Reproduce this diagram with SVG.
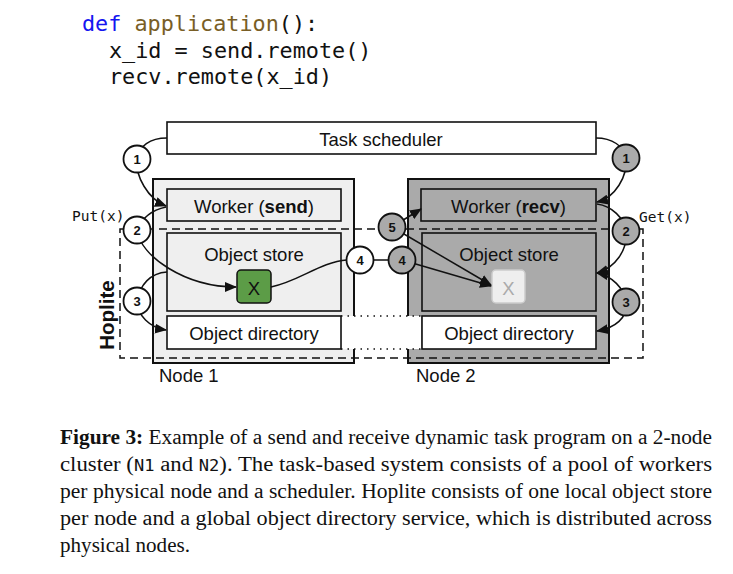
<svg xmlns="http://www.w3.org/2000/svg" width="733" height="574" viewBox="0 0 733 574">
<style>
  .code{font-family:"DejaVu Sans Mono",monospace;font-size:21.8px;fill:#111}
  .lbl{font-family:"Liberation Sans",Arial,sans-serif;font-size:18.5px;fill:#111;text-anchor:middle}
  .box{stroke:#111;stroke-width:1.6}
  .outer{stroke:#111;stroke-width:2}
  .conn{fill:none;stroke:#111;stroke-width:1.5}
  .circW{fill:#fff;stroke:#111;stroke-width:1.8}
  .circG{fill:#aaa;stroke:#111;stroke-width:1.8}
  .num{font-family:"Liberation Sans",Arial,sans-serif;font-size:13px;font-weight:bold;fill:#111;text-anchor:middle}
  .mono{font-family:"DejaVu Sans Mono",monospace;font-size:14.5px;fill:#111}
  .cap{font-family:"Liberation Serif","Times New Roman",serif;font-size:20px;fill:#111}
</style>
<defs>
  <marker id="arr" markerUnits="userSpaceOnUse" markerWidth="12" markerHeight="10" refX="11" refY="5" orient="auto-start-reverse">
    <path d="M0,0 L12,5 L0,10 z" fill="#111"/>
  </marker>
</defs>

<g id="code">
  <text class="code" x="82" y="31"><tspan fill="#1515f0">def</tspan> <tspan fill="#795e26">application</tspan>():</text>
  <text class="code" x="109" y="57.5">x_id = send.remote()</text>
  <text class="code" x="109" y="84">recv.remote(x_id)</text>
</g>

<g id="scheduler">
  <rect class="box" x="167" y="122" width="429" height="32" fill="#fff"/>
  <text class="lbl" x="381" y="146">Task scheduler</text>
</g>

<g id="node1">
  <rect class="outer" x="153" y="179" width="201" height="184" fill="#efefef"/>
  <g id="worker-send">
    <rect class="box" x="167" y="189" width="174" height="32" fill="#efefef"/>
    <text class="lbl" x="254" y="212.5">Worker (<tspan font-weight="bold">send</tspan>)</text>
  </g>
  <g id="store1">
    <rect class="box" x="167" y="233" width="174" height="78" fill="#efefef"/>
    <text class="lbl" x="254" y="261">Object store</text>
  </g>
  <g id="x1">
    <rect x="237" y="270" width="34" height="33" rx="4" fill="#5c9c47" stroke="#111" stroke-width="1.5"/>
    <text class="lbl" x="254" y="295" font-size="21">X</text>
  </g>
  <text class="lbl" x="159" y="382" style="text-anchor:start">Node 1</text>
</g>

<g id="node2">
  <rect class="outer" x="408" y="179" width="201" height="184" fill="#aaa"/>
  <g id="worker-recv">
    <rect class="box" x="421" y="189" width="175" height="32" fill="#aaa"/>
    <text class="lbl" x="508.5" y="212.5">Worker (<tspan font-weight="bold">recv</tspan>)</text>
  </g>
  <g id="store2">
    <rect class="box" x="422" y="233" width="174" height="78" fill="#aaa"/>
    <text class="lbl" x="509" y="261">Object store</text>
  </g>
  <g id="x2">
    <rect x="492" y="270" width="33" height="33" rx="4" fill="#eee" stroke="#ccc" stroke-width="1.5"/>
    <text class="lbl" x="508.5" y="295" font-size="21" style="fill:#aaa">X</text>
  </g>
  <text class="lbl" x="416" y="382" style="text-anchor:start">Node 2</text>
</g>

<g id="directory">
  <rect x="342" y="316" width="79" height="33" fill="#fff"/>
  <line x1="341" y1="316" x2="422" y2="316" stroke="#111" stroke-width="1.5" stroke-dasharray="1.5 5"/>
  <line x1="341" y1="349" x2="422" y2="349" stroke="#111" stroke-width="1.5" stroke-dasharray="1.5 5"/>
  <g id="dir1">
    <rect class="box" x="167" y="316" width="174" height="33" fill="#fff"/>
    <text class="lbl" x="254" y="340">Object directory</text>
  </g>
  <g id="dir2">
    <rect class="box" x="422" y="316" width="174" height="33" fill="#fff"/>
    <text class="lbl" x="509" y="340">Object directory</text>
  </g>
</g>

<g id="hoplite">
  <rect x="120" y="229" width="523" height="129" fill="none" stroke="#111" stroke-width="1.5" stroke-dasharray="8 5"/>
  <text x="106" y="315" transform="rotate(-90 106 315)" font-family="Liberation Sans,Arial,sans-serif" font-size="20.5" font-weight="bold" fill="#111" text-anchor="middle" dominant-baseline="central">Hoplite</text>
  <text class="mono" x="72" y="221">Put(x)</text>
  <text class="mono" x="639" y="222">Get(x)</text>
</g>

<g id="connectors">
  <path class="conn" d="M167,138 C150,138 139,146 137,159 C135,176 148,199 166,206" marker-end="url(#arr)"/>
  <path class="conn" d="M166,207 C152,210 142,218 137,230 C140,256 185,287 236,287" marker-end="url(#arr)"/>
  <path class="conn" d="M167,272 C150,273 140,285 137,301 C137,315 150,328 166,330" marker-end="url(#arr)"/>
  <path class="conn" d="M271,287 C300,281 320,262 347,260 L389,260"/>
  <path class="conn" d="M402,260 L491,286" marker-end="url(#arr)"/>
  <path class="conn" d="M392,227 L421,209" marker-end="url(#arr)"/>
  <path class="conn" d="M392,227 L491,285" marker-end="url(#arr)"/>
  <path class="conn" d="M596,138 C612,138 624,146 626,158 C628,176 615,198 597,202" marker-end="url(#arr)"/>
  <path class="conn" d="M597,204 C612,206 624,218 626,231 C628,250 615,268 597,273" marker-end="url(#arr)"/>
  <path class="conn" d="M597,273 C612,276 624,288 626,302 C628,318 615,328 597,331" marker-start="url(#arr)" marker-end="url(#arr)"/>
</g>

<g id="steps">
  <g id="s1l"><circle class="circW" cx="137" cy="159" r="13.5"/><text class="num" x="137" y="163.5">1</text></g>
  <g id="s2l"><circle class="circW" cx="137" cy="230" r="13.5"/><text class="num" x="137" y="234.5">2</text></g>
  <g id="s3l"><circle class="circW" cx="137" cy="301" r="13.5"/><text class="num" x="137" y="305.5">3</text></g>
  <g id="s4w"><circle class="circW" cx="360" cy="260" r="13.5"/><text class="num" x="360" y="264.5">4</text></g>
  <g id="s4g"><circle class="circG" cx="402" cy="260" r="13.5"/><text class="num" x="402" y="264.5">4</text></g>
  <g id="s5"><circle class="circG" cx="392" cy="227" r="13.5"/><text class="num" x="392" y="231.5">5</text></g>
  <g id="s1r"><circle class="circG" cx="626" cy="158" r="13.5"/><text class="num" x="626" y="162.5">1</text></g>
  <g id="s2r"><circle class="circG" cx="626" cy="231" r="13.5"/><text class="num" x="626" y="235.5">2</text></g>
  <g id="s3r"><circle class="circG" cx="626" cy="302" r="13.5"/><text class="num" x="626" y="306.5">3</text></g>
</g>

<g id="caption">
  <text class="cap" x="60" y="444" textLength="652" lengthAdjust="spacingAndGlyphs"><tspan font-weight="bold">Figure 3:</tspan> Example of a send and receive dynamic task program on a 2-node</text>
  <text class="cap" x="60" y="471" textLength="652" lengthAdjust="spacingAndGlyphs">cluster (<tspan font-family="DejaVu Sans Mono,monospace" font-size="15">N1</tspan> and <tspan font-family="DejaVu Sans Mono,monospace" font-size="15">N2</tspan>). The task-based system consists of a pool of workers</text>
  <text class="cap" x="60" y="498" textLength="652" lengthAdjust="spacingAndGlyphs">per physical node and a scheduler. Hoplite consists of one local object store</text>
  <text class="cap" x="60" y="525" textLength="652" lengthAdjust="spacingAndGlyphs">per node and a global object directory service, which is distributed across</text>
  <text class="cap" x="60" y="552" textLength="130" lengthAdjust="spacingAndGlyphs">physical nodes.</text>
</g>
</svg>
